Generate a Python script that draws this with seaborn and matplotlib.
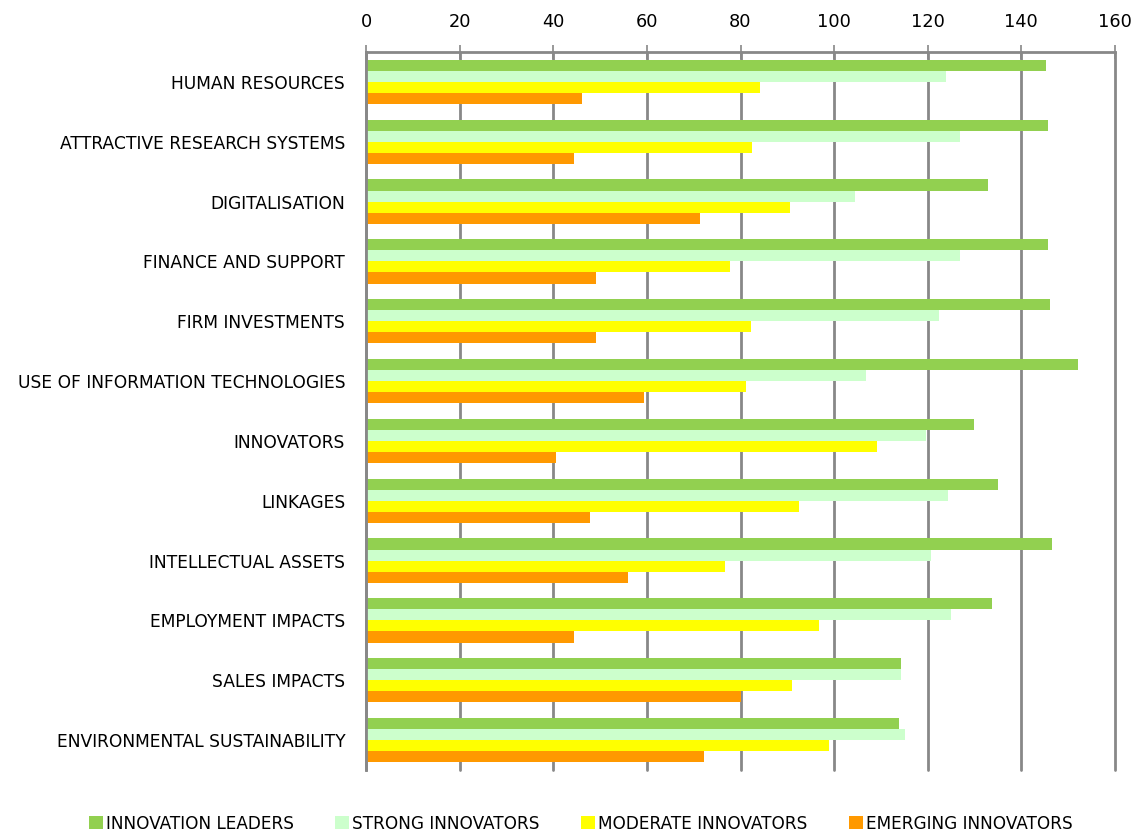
import numpy as np
import pandas as pd
import matplotlib
matplotlib.use("Agg")
import matplotlib.pyplot as plt
import seaborn as sns

# data
categories = ['HUMAN RESOURCES', 'ATTRACTIVE RESEARCH SYSTEMS', 'DIGITALISATION',
              'FINANCE AND SUPPORT', 'FIRM INVESTMENTS', 'USE OF INFORMATION TECHNOLOGIES',
              'INNOVATORS', 'LINKAGES', 'INTELLECTUAL ASSETS', 'EMPLOYMENT IMPACTS',
              'SALES IMPACTS', 'ENVIRONMENTAL SUSTAINABILITY']
leaders = [145.2, 145.6, 132.8, 145.6, 146.1, 152.0, 129.8, 134.9, 146.5, 133.7, 114.2, 113.8]
strong = [124.0, 126.8, 104.4, 126.8, 122.3, 106.9, 119.7, 124.4, 120.6, 124.9, 114.2, 115.1]
moderate = [84.2, 82.5, 90.6, 77.8, 82.2, 81.2, 109.1, 92.4, 76.6, 96.7, 91.1, 98.8]
emerging = [46.2, 44.5, 71.4, 49.2, 49.2, 59.4, 40.6, 47.9, 56.0, 44.5, 80.0, 72.3]
groups = ['INNOVATION LEADERS', 'STRONG INNOVATORS', 'MODERATE INNOVATORS', 'EMERGING INNOVATORS']
colors = ['#92D050', '#CCFFCC', '#FFFF00', '#FF9900']

#%%
df = pd.DataFrame({'category': categories, groups[0]: leaders, groups[1]: strong,
                   groups[2]: moderate, groups[3]: emerging})
long_df = df.melt(id_vars='category', var_name='group', value_name='score')

sns.set_style("white")
plt.rcParams['font.family'] = ['DejaVu Sans']
plt.rcParams['text.color'] = 'black'
plt.rcParams['xtick.labelcolor'] = 'black'
plt.rcParams['ytick.labelcolor'] = 'black'

fig = plt.figure(figsize=(11.37, 8.32), dpi=100)
ax = fig.add_axes([366 / 1137, 62 / 832, 749 / 1137, 718 / 832])

sns.barplot(data=long_df, y='category', x='score', hue='group', order=categories,
            hue_order=groups, palette=colors, orient='h', width=0.74, gap=0,
            saturation=1, linewidth=0, ax=ax, legend=True)

ax.set_xlim(0, 160)
ax.set_ylim(len(categories) - 0.5, -0.5)
ax.set_xticks(np.arange(0, 161, 20))
ax.xaxis.tick_top()
ax.tick_params(axis='x', which='major', direction='inout', length=10, width=1.2,
               color='#888888', labelsize=12.8, pad=10)
ax.tick_params(axis='y', which='major', length=0, labelsize=12.3, pad=15)
ax.set_yticks(np.arange(-0.5, len(categories), 1), minor=True)
ax.tick_params(axis='y', which='minor', direction='inout', length=10, width=1.2, color='#888888')
ax.grid(axis='x', color='#888888', linewidth=2)
for gl in ax.get_xgridlines():
    gl.set_clip_on(False)
ax.set_axisbelow(True)
ax.set_xlabel('')
ax.set_ylabel('')

for side in ['right', 'bottom']:
    ax.spines[side].set_visible(False)
for side in ['top', 'left']:
    ax.spines[side].set_color('#888888')
    ax.spines[side].set_linewidth(2)

handles, labels = ax.get_legend_handles_labels()
ax.get_legend().remove()
fig.legend(handles, labels, loc='lower center', ncol=4, frameon=False,
           bbox_to_anchor=(0.511, -0.019), fontsize=12.2, handlelength=0.8,
           handleheight=0.8, handletextpad=0.2, columnspacing=2.45)

fig.savefig('out.png', dpi=100)
